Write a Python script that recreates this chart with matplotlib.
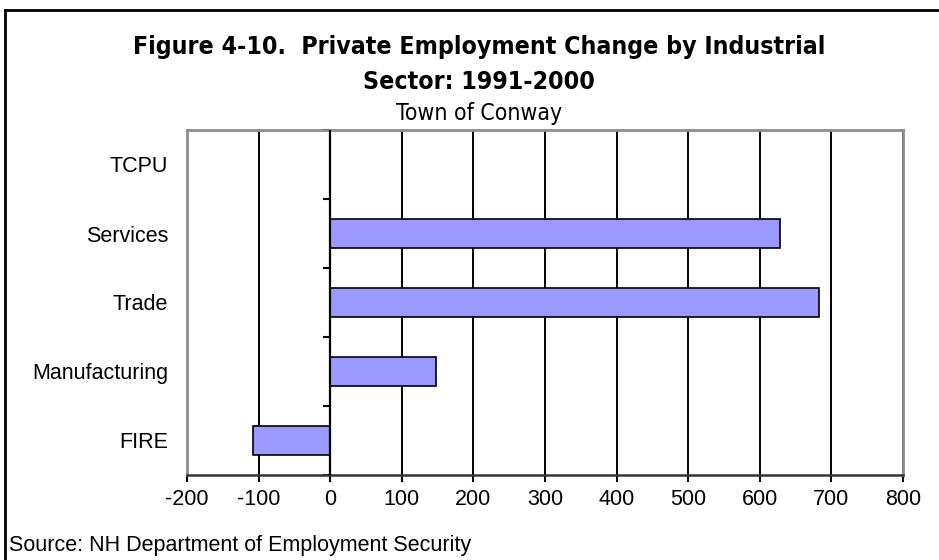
import matplotlib
matplotlib.use("Agg")
import matplotlib.pyplot as plt
from matplotlib.lines import Line2D

# data
sectors = ["FIRE", "Manufacturing", "Trade", "Services", "TCPU"]
change = [-108, 148, 682, 628, 0]
x_ticks = [-200, -100, 0, 100, 200, 300, 400, 500, 600, 700, 800]

title_lines = ["Figure 4-10.  Private Employment Change by Industrial",
               "Sector: 1991-2000"]
subtitle_text = "Town of Conway"
source_text = "Source: NH Department of Employment Security"

plt.rcParams["font.family"] = ["Liberation Sans", "DejaVu Sans"]

W, H = 939, 560
fig = plt.figure(figsize=(W / 100, H / 100), dpi=100)

# plot area position in pixels: left 187, right 903, top 130, bottom 475
ax = fig.add_axes([187 / W, 1 - 475 / H, (903 - 187) / W, (475 - 130) / H])

pos = list(range(len(sectors)))
ax.barh(pos, change, height=0.42, color="#9999FF", edgecolor="black",
        linewidth=1.2, zorder=3)

ax.set_xlim(-200, 800)
ax.set_ylim(-0.5, len(sectors) - 0.5)
ax.set_xticks(x_ticks)
ax.set_xticklabels([str(v) for v in x_ticks], fontsize=15.5)
ax.set_yticks(pos)
ax.set_yticklabels(sectors, fontsize=15.5)
ax.tick_params(axis="y", length=0, pad=13.5)
ax.tick_params(axis="x", length=5, width=1.5, color="black", pad=5, direction="out")

ax.xaxis.grid(True, color="black", linewidth=1.4, zorder=1)
ax.set_axisbelow(True)

for side in ["top", "left", "right"]:
    ax.spines[side].set_color("#8c8c8c")
    ax.spines[side].set_linewidth(2)
ax.spines["bottom"].set_color("#333333")
ax.spines["bottom"].set_linewidth(1.8)

# category axis sits at zero with small ticks between categories
ax.axvline(0, color="black", linewidth=1.6, zorder=4)
cat_axis = ax.secondary_yaxis(0.2)
cat_axis.set_yticks([p - 0.5 for p in pos] + [len(sectors) - 0.5])
cat_axis.set_yticklabels([])
cat_axis.tick_params(length=5, width=1.5, color="black", direction="out")
cat_axis.spines["left"].set_visible(False)

# titles: narrow bold face as in the original
narrow = ["DejaVu Sans", "Liberation Sans"]
for line, y_px in zip(title_lines, [47, 82]):
    fig.text(479 / W, 1 - y_px / H, line, ha="center", va="center",
             fontsize=17.8, fontweight="bold", family=narrow, fontstretch="condensed")
fig.text(479 / W, 1 - 114 / H, subtitle_text, ha="center", va="center",
         fontsize=16.5, family=narrow, fontstretch="condensed")
fig.text(9 / W, 1 - 545 / H, source_text, ha="left", va="center", fontsize=15.5)

# outer chart frame (only top and left edges are inside the image)
fig.add_artist(Line2D([5 / W, 1.0], [1 - 10 / H, 1 - 10 / H], color="black", linewidth=2))
fig.add_artist(Line2D([5 / W, 5 / W], [0.0, 1 - 10 / H], color="black", linewidth=2))

fig.savefig("out.png", dpi=100)
